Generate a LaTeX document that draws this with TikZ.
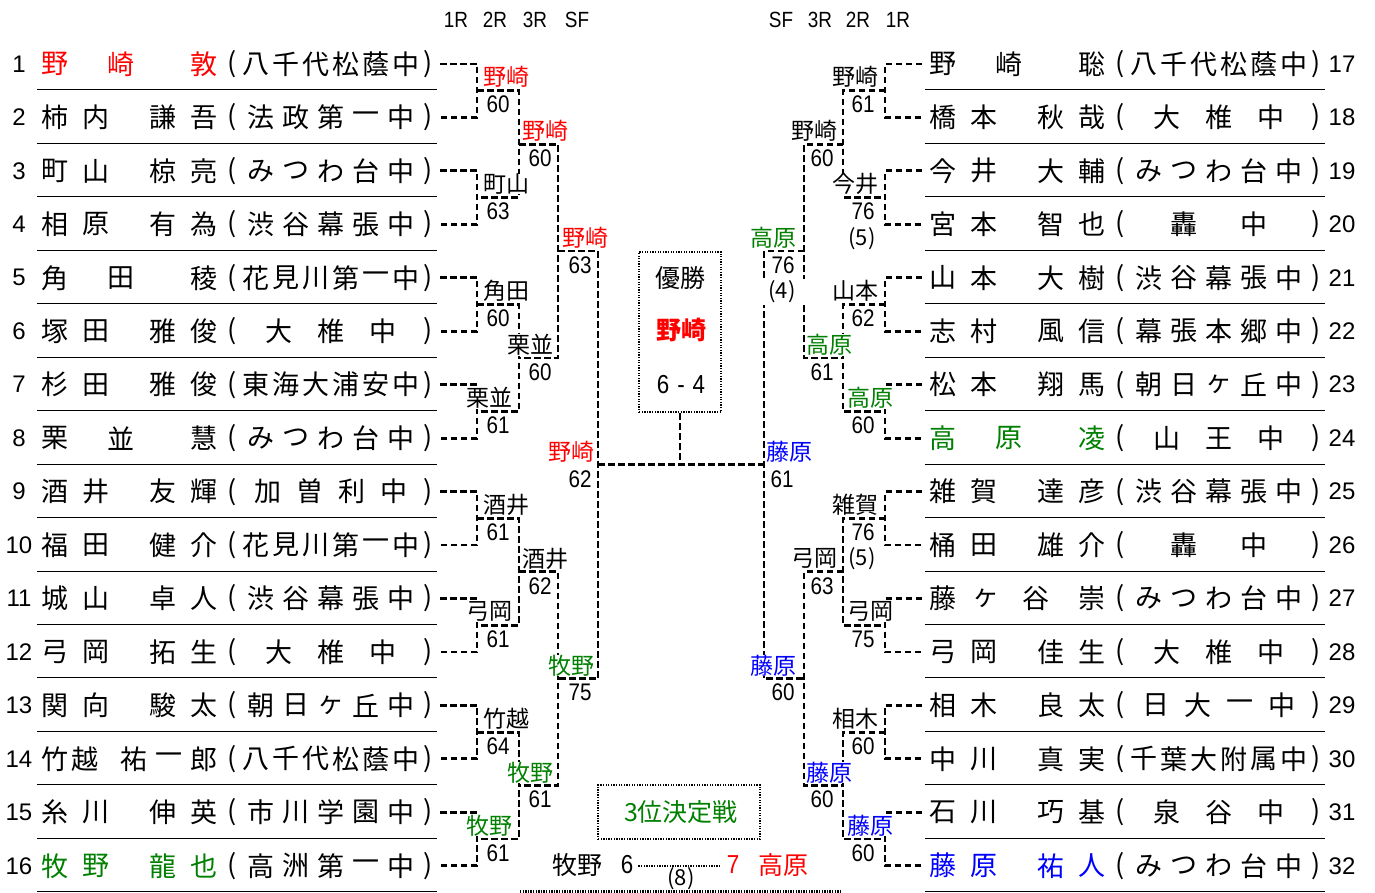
\documentclass[tikz,border=0pt]{standalone}
\usepackage{fontspec}
\setmainfont{Liberation Sans}
\newfontfamily\jp{Noto Sans CJK JP}
\newfontfamily\digf[FakeStretch=0.86]{Liberation Sans}
\usetikzlibrary{calc}
\definecolor{jred}{RGB}{255,0,0}
\definecolor{jgreen}{RGB}{0,128,0}
\definecolor{jblue}{RGB}{0,0,255}

\newcommand\prow[4]{%
  \ifnum#1>16 \def\xoff{888}\def\numx{1342}\else\def\xoff{0}\def\numx{19}\fi
  \pgfmathsetmacro\yy{64+(mod(#1-1,16))*53.45}%
  \node[num] (no#1) at (\numx,\yy) {#1};
  \foreach \xx/\ch [count=\k] in {#2} \node[nm,text=#4] (n#1-\k) at (\xoff+\xx,\yy) {\ch};
  \gdef\nsc{0}%
  \foreach \ch in {#3} {\xdef\nsc{\the\numexpr\nsc+1\relax}}%
  \pgfmathsetmacro\gap{(182-\nsc*27)/(\nsc+1)}%
  \foreach \ch [count=\k from 0] in {#3} \node[nm] (s#1-\k) at ({\xoff+240+\gap*(\k+1)+27*\k+13.5},\yy) {\ch};
  \node[nm] (po#1) at (\xoff+232,\yy) {(};
  \node[nm] (pc#1) at (\xoff+428,\yy) {)};
}
\newcommand\prowAA[7]{\prow{#1}{54.5/#2,95.5/#3,162.5/#4,204/#5}{#6}{#7}}
\newcommand\prowAB[6]{\prow{#1}{54.5/#2,120.5/#3,204/#4}{#5}{#6}}

\begin{document}
\begin{tikzpicture}[x=1pt,y=-1pt,
  conn/.style={line width=2.8pt, dash pattern=on 6.5pt off 3.5pt},
  sepline/.style={line width=1pt},
  dotline/.style={line width=2.6pt, dash pattern=on 1.3pt off 1.3pt},
  lbl/.style={font=\jp\fontsize{23}{23}\selectfont, inner sep=0pt, fill=white},
  score/.style={font=\digf\fontsize{24}{24}\selectfont, inner sep=0pt},
  paren/.style={font=\jp\fontsize{22}{22}\selectfont, inner sep=0pt},
  nm/.style={font=\jp\fontsize{27}{27}\selectfont, inner sep=0pt},
  big/.style={font=\jp\fontsize{25}{25}\selectfont, inner sep=0pt},
  num/.style={font=\fontsize{24}{24}\selectfont, inner sep=0pt},
  dnum/.style={font=\digf\fontsize{26}{26}\selectfont, inner sep=0pt},
  hdr/.style={font=\digf\fontsize{22}{22}\selectfont, inner sep=0pt},
]
\useasboundingbox (0,0) rectangle (1375,893);
\fill[white] (0,0) rectangle (1375,893);

% headers
\node[hdr] (hl1) at (456,20) {1R};
\node[hdr] (hl2) at (495,20) {2R};
\node[hdr] (hl3) at (535,20) {3R};
\node[hdr] (hl4) at (577,20) {SF};
\node[hdr] (hr4) at (781,20) {SF};
\node[hdr] (hr3) at (820,20) {3R};
\node[hdr] (hr2) at (858,20) {2R};
\node[hdr] (hr1) at (898,20) {1R};

% separators
\foreach \i in {1,...,16}{
  \pgfmathsetmacro\ys{64+(\i-1)*53.45+26}
  \draw[sepline] (37,\ys) -- (437,\ys);
  \draw[sepline] (925,\ys) -- (1325,\ys);
}

% players
\prowAB{1}{野}{崎}{敦}{八,千,代,松,蔭,中}{jred}
\prowAA{2}{柿}{内}{謙}{吾}{法,政,第,一,中}{black}
\prowAA{3}{町}{山}{椋}{亮}{み,つ,わ,台,中}{black}
\prowAA{4}{相}{原}{有}{為}{渋,谷,幕,張,中}{black}
\prowAB{5}{角}{田}{稜}{花,見,川,第,一,中}{black}
\prowAA{6}{塚}{田}{雅}{俊}{大,椎,中}{black}
\prowAA{7}{杉}{田}{雅}{俊}{東,海,大,浦,安,中}{black}
\prowAB{8}{栗}{並}{慧}{み,つ,わ,台,中}{black}
\prowAA{9}{酒}{井}{友}{輝}{加,曽,利,中}{black}
\prowAA{10}{福}{田}{健}{介}{花,見,川,第,一,中}{black}
\prowAA{11}{城}{山}{卓}{人}{渋,谷,幕,張,中}{black}
\prowAA{12}{弓}{岡}{拓}{生}{大,椎,中}{black}
\prowAA{13}{関}{向}{駿}{太}{朝,日,ヶ,丘,中}{black}
\prow{14}{54.5/竹,85/越,134/祐,169/一,204/郎}{八,千,代,松,蔭,中}{black}
\prowAA{15}{糸}{川}{伸}{英}{市,川,学,園,中}{black}
\prowAA{16}{牧}{野}{龍}{也}{高,洲,第,一,中}{jgreen}
\prowAB{17}{野}{崎}{聡}{八,千,代,松,蔭,中}{black}
\prowAA{18}{橋}{本}{秋}{哉}{大,椎,中}{black}
\prowAA{19}{今}{井}{大}{輔}{み,つ,わ,台,中}{black}
\prowAA{20}{宮}{本}{智}{也}{轟,中}{black}
\prowAA{21}{山}{本}{大}{樹}{渋,谷,幕,張,中}{black}
\prowAA{22}{志}{村}{風}{信}{幕,張,本,郷,中}{black}
\prowAA{23}{松}{本}{翔}{馬}{朝,日,ヶ,丘,中}{black}
\prowAB{24}{高}{原}{凌}{山,王,中}{jgreen}
\prowAA{25}{雑}{賀}{達}{彦}{渋,谷,幕,張,中}{black}
\prowAA{26}{桶}{田}{雄}{介}{轟,中}{black}
\prow{27}{55/藤,98/ヶ,148/谷,204/崇}{み,つ,わ,台,中}{black}
\prowAA{28}{弓}{岡}{佳}{生}{大,椎,中}{black}
\prowAA{29}{相}{木}{良}{太}{日,大,一,中}{black}
\prowAA{30}{中}{川}{真}{実}{千,葉,大,附,属,中}{black}
\prowAA{31}{石}{川}{巧}{基}{泉,谷,中}{black}
\prowAA{32}{藤}{原}{祐}{人}{み,つ,わ,台,中}{jblue}

% bracket coordinates
\foreach \i in {1,...,16}{
  \pgfmathsetmacro\yy{64+(\i-1)*53.45}
  \pgfmathtruncatemacro\ii{\i+16}
  \coordinate (L\i) at (440,\yy);
  \coordinate (R\ii) at (922,\yy);
}
\foreach \j in {1,...,8}{
  \pgfmathsetmacro\ym{64+(2*\j-1.5)*53.45}
  \coordinate (LA\j) at (477,\ym);
  \coordinate (RA\j) at (885,\ym);
}
\foreach \j in {1,...,4}{
  \pgfmathsetmacro\ym{64+(4*\j-2.5)*53.45}
  \coordinate (LB\j) at (519,\ym);
  \coordinate (RB\j) at (843,\ym);
}
\foreach \j in {1,2}{
  \pgfmathsetmacro\ym{64+(8*\j-4.5)*53.45}
  \coordinate (LC\j) at (558,\ym);
  \coordinate (RC\j) at (804,\ym);
}
\coordinate (LS) at (598,{64+7.5*53.45});
\coordinate (RS) at (764,{64+7.5*53.45});

% bracket lines
\foreach \j in {1,...,8}{
  \pgfmathtruncatemacro\a{2*\j-1}\pgfmathtruncatemacro\b{2*\j}
  \pgfmathtruncatemacro\c{2*\j+15}\pgfmathtruncatemacro\d{2*\j+16}
  \draw[conn] (L\a) -| (LA\j) |- (L\b);
  \draw[conn] (R\c) -| (RA\j) |- (R\d);
}
\foreach \j in {1,...,4}{
  \pgfmathtruncatemacro\a{2*\j-1}\pgfmathtruncatemacro\b{2*\j}
  \draw[conn] (LA\a) -| (LB\j) |- (LA\b);
  \draw[conn] (RA\a) -| (RB\j) |- (RA\b);
}
\draw[conn] (LB1) -| (LC1) |- (LB2);
\draw[conn] (LB3) -| (LC2) |- (LB4);
\draw[conn] (RB1) -| (RC1) |- (RB2);
\draw[conn] (RB3) -| (RC2) |- (RB4);
\draw[conn] (LC1) -| (LS) |- (LC2);
\draw[conn] (RC1) -| (RS) |- (RC2);
\draw[conn] (LS) -- (RS);

% champion box
\node[draw, dotline, minimum width=82pt, minimum height=160pt, inner sep=0pt] (win) at (680,332) {};
\draw[conn] (win.south) -- (win.south |- LS);
\node[big] (yusho) at (680,278) {優勝};
\node[big, font=\jp\bfseries\fontsize{25}{25}\selectfont, text=jred] (champ) at (681,330) {野崎};
\node[dnum] (fscore) at (681,385) {6\hspace{8pt}-\hspace{8pt}4};

% left labels
\foreach \j/\t/\c/\dx/\s in {1/野崎/jred/6/60, 2/町山/black/6/63, 3/角田/black/6/60, 4/栗並/black/-11/61, 5/酒井/black/6/61, 6/弓岡/black/-11/61, 7/竹越/black/6/64, 8/牧野/jgreen/-11/61}{
  \node[lbl,anchor=west,text=\c] (lwA\j) at ($(LA\j)+(\dx,-13.5)$) {\t};
  \node[score] (lsA\j) at ($(LA\j)+(21,14)$) {\s};
}
\foreach \j/\t/\c/\dx/\s in {1/野崎/jred/3/60, 2/栗並/black/-12/60, 3/酒井/black/3/62, 4/牧野/jgreen/-12/61}{
  \node[lbl,anchor=west,text=\c] (lwB\j) at ($(LB\j)+(\dx,-13)$) {\t};
  \node[score] (lsB\j) at ($(LB\j)+(21,14)$) {\s};
}
\node[lbl,anchor=west,text=jred] (lwC1) at ($(LC1)+(4,-13)$) {野崎};
\node[score] (lsC1) at ($(LC1)+(22,14)$) {63};
\node[lbl,anchor=west,text=jgreen] (lwC2) at ($(LC2)+(-10,-13)$) {牧野};
\node[score] (lsC2) at ($(LC2)+(22,14)$) {75};
\node[lbl,anchor=east,text=jred] (lwS) at ($(LS)+(-3,-13)$) {野崎};
\node[score] (lsS) at ($(LS)+(-18,14)$) {62};

% right labels
\foreach \j/\t/\c/\dx/\s in {1/野崎/black/-6/61, 2/今井/black/-6/76, 3/山本/black/-6/62, 4/高原/jgreen/9/60, 5/雑賀/black/-6/76, 6/弓岡/black/9/75, 7/相木/black/-6/60, 8/藤原/jblue/9/60}{
  \node[lbl,anchor=east,text=\c] (rwA\j) at ($(RA\j)+(\dx,-13.5)$) {\t};
  \node[score] (rsA\j) at ($(RA\j)+(-22,14)$) {\s};
}
\node[paren] (p5a) at ($(RA2)+(-23,41)$) {(5)};
\node[paren] (p5b) at ($(RA5)+(-23,40)$) {(5)};
\foreach \j/\t/\c/\dx/\s in {1/野崎/black/-5/60, 2/高原/jgreen/10/61, 3/弓岡/black/-5/63, 4/藤原/jblue/10/60}{
  \node[lbl,anchor=east,text=\c] (rwB\j) at ($(RB\j)+(\dx,-13)$) {\t};
  \node[score] (rsB\j) at ($(RB\j)+(-21,14)$) {\s};
}
\node[lbl,anchor=east,text=jgreen] (rwC1) at ($(RC1)+(-7,-13)$) {高原};
\node[score] (rsC1) at ($(RC1)+(-21,14)$) {76};
\node[paren, fill=white, minimum width=50pt, minimum height=26pt] (p4) at ($(RC1)+(-22,41)$) {(4)};
\node[lbl,anchor=east,text=jblue] (rwC2) at ($(RC2)+(-7,-13)$) {藤原};
\node[score] (rsC2) at ($(RC2)+(-21,14)$) {60};
\node[lbl,anchor=west,text=jblue] (rwS) at ($(RS)+(2,-13)$) {藤原};
\node[score] (rsS) at ($(RS)+(18,14)$) {61};

% third place
\node[draw, dotline, minimum width=162pt, minimum height=54pt, inner sep=0pt] (third) at (679,812) {};
\node[big, text=jgreen] (thirdt) at (681,812) {3位決定戦};
\node[big] (tmk) at (577,865) {牧野};
\node[dnum] (t6) at (627,865) {6};
\node[dnum, text=jred] (t7) at (733,865) {7};
\node[big, text=jred] (ttk) at (783,865) {高原};
\draw[dotline] ($(t6.east)+(5,1)$) -- ($(t7.west)+(-5,1)$);
\node[paren] (t8) at (681,879) {(8)};
\coordinate (bl) at (520,891.5);
\coordinate (br) at (842,891.5);
\draw[dotline] (bl) -- (br);
\end{tikzpicture}
\end{document}
